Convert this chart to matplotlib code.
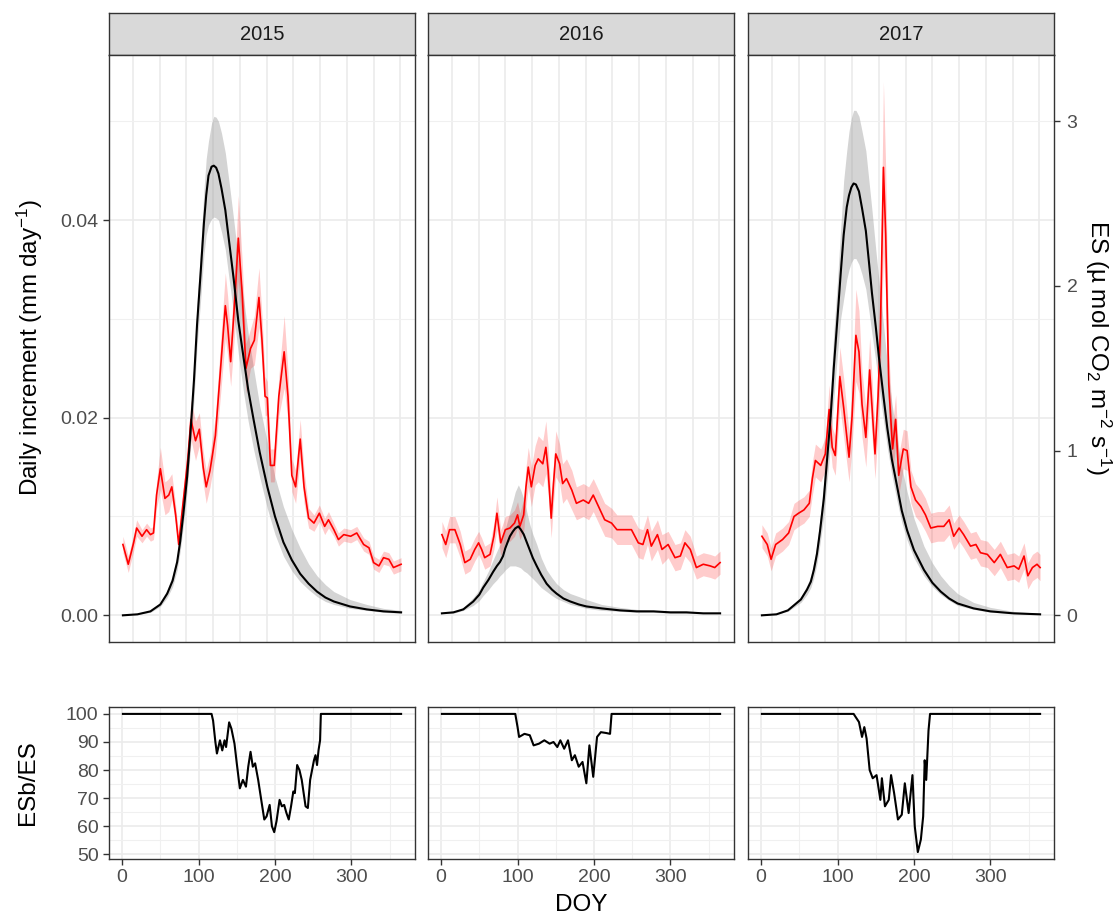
import numpy as np
import matplotlib
matplotlib.use('Agg')
import matplotlib.pyplot as plt

plt.rcParams['font.family'] = ['Liberation Sans', 'DejaVu Sans']
plt.rcParams['mathtext.fontset'] = 'custom'
plt.rcParams['mathtext.rm'] = 'Liberation Sans'
plt.rcParams['mathtext.it'] = 'Liberation Sans:italic'

years = ['2015', '2016', '2017']

# ---- daily increment (black line + grey ribbon), mm/day ----
inc_doy_2015 = [1, 20, 37, 50, 59, 66, 72, 76, 80, 85, 89, 94, 98, 103, 107, 110, 113, 117, 120, 123, 126, 130,
                135, 140, 146, 152, 159, 165, 172, 180, 190, 200, 211, 222, 233, 244, 255, 266, 277, 298, 320,
                342, 365]
inc_2015 = [0, 0.0001, 0.0004, 0.0011, 0.0022, 0.0035, 0.0054, 0.0075, 0.0102, 0.014, 0.018, 0.0238, 0.0294,
            0.035, 0.0397, 0.0425, 0.0445, 0.0454, 0.0455, 0.0453, 0.0447, 0.0432, 0.041, 0.0378, 0.034, 0.0298,
            0.026, 0.0228, 0.0198, 0.0165, 0.013, 0.01, 0.0074, 0.0056, 0.0042, 0.0032, 0.0024, 0.0018, 0.0014,
            0.0009, 0.0006, 0.0004, 0.0003]
inc_lo_2015 = [0, 0.0001, 0.0003, 0.0009, 0.0018, 0.0029, 0.0046, 0.0065, 0.009, 0.0125, 0.0165, 0.0218, 0.0272,
               0.0322, 0.0365, 0.0385, 0.0395, 0.0401, 0.0403, 0.0402, 0.04, 0.0388, 0.037, 0.034, 0.0305, 0.0265,
               0.0225, 0.0196, 0.0168, 0.014, 0.0108, 0.0082, 0.006, 0.0045, 0.0034, 0.0026, 0.0019, 0.0014,
               0.0011, 0.0007, 0.0005, 0.0003, 0.0002]
inc_hi_2015 = [0, 0.0001, 0.0005, 0.0013, 0.0026, 0.0041, 0.006, 0.0083, 0.011, 0.0152, 0.0195, 0.0255, 0.0315,
               0.0375, 0.043, 0.0462, 0.048, 0.0498, 0.0505, 0.0504, 0.05, 0.0488, 0.0468, 0.0438, 0.04, 0.036,
               0.032, 0.0285, 0.025, 0.0212, 0.0175, 0.014, 0.011, 0.0087, 0.0068, 0.0052, 0.004, 0.0031, 0.0024,
               0.0016, 0.0011, 0.0007, 0.0005]

inc_doy_2016 = [1, 16, 29, 42, 50, 55, 62, 68, 73, 77, 81, 84, 87, 90, 94, 97, 101, 104, 108, 112, 116, 120, 125,
                131, 138, 145, 151, 160, 169, 180, 190, 210, 234, 256, 278, 300, 321, 343, 365]
inc_2016 = [0.0002, 0.0003, 0.0006, 0.0014, 0.0021, 0.0028, 0.0036, 0.0044, 0.005, 0.0054, 0.006, 0.0068, 0.0074,
            0.008, 0.0085, 0.0088, 0.009, 0.0087, 0.0082, 0.0074, 0.0066, 0.0058, 0.005, 0.0041, 0.0032, 0.0026,
            0.0022, 0.0017, 0.0014, 0.0011, 0.0009, 0.0007, 0.0005, 0.0004, 0.0004, 0.0003, 0.0003, 0.0002, 0.0002]
inc_lo_2016 = [0.0002, 0.0002, 0.0005, 0.001, 0.0015, 0.002, 0.0026, 0.0032, 0.0036, 0.004, 0.0043, 0.0046, 0.0048,
               0.005, 0.005, 0.005, 0.0049, 0.0048, 0.0045, 0.0043, 0.004, 0.0037, 0.0033, 0.0028, 0.0024, 0.002,
               0.0017, 0.0014, 0.0011, 0.0009, 0.0007, 0.0005, 0.0004, 0.0003, 0.0003, 0.0002, 0.0002, 0.0002, 0.0002]
inc_hi_2016 = [0.0002, 0.0004, 0.0008, 0.0018, 0.0026, 0.0034, 0.0045, 0.0056, 0.0065, 0.0072, 0.008, 0.0088,
               0.0096, 0.0105, 0.0116, 0.0125, 0.0132, 0.0127, 0.0118, 0.0105, 0.0092, 0.0082, 0.0072, 0.0058,
               0.0046, 0.0038, 0.0032, 0.0026, 0.0022, 0.0019, 0.0016, 0.0011, 0.0008, 0.0006, 0.0005, 0.0004,
               0.0004, 0.0003, 0.0003]

inc_doy_2017 = [1, 20, 35, 52, 60, 65, 69, 73, 77, 82, 86, 91, 95, 100, 104, 108, 112, 115, 118, 121, 124, 128,
                132, 137, 141, 145, 150, 154, 160, 165, 171, 178, 184, 191, 200, 213, 224, 235, 246, 257, 278, 300,
                330, 365]
inc_2017 = [0, 0.0001, 0.0005, 0.0016, 0.0026, 0.0034, 0.0046, 0.0062, 0.0085, 0.0118, 0.0155, 0.0202, 0.025,
            0.0302, 0.0345, 0.0385, 0.0413, 0.0425, 0.0433, 0.0437, 0.0436, 0.0429, 0.0412, 0.0389, 0.0358, 0.0326,
            0.0292, 0.0262, 0.0222, 0.019, 0.0158, 0.013, 0.0106, 0.0086, 0.0066, 0.0046, 0.0033, 0.0024, 0.0017,
            0.0012, 0.0007, 0.0004, 0.0002, 0.0001]
inc_lo_2017 = [0, 0.0001, 0.0004, 0.0013, 0.0021, 0.0028, 0.0038, 0.0052, 0.0072, 0.01, 0.0132, 0.0175, 0.0218,
               0.0265, 0.03, 0.032, 0.034, 0.035, 0.0357, 0.0361, 0.0361, 0.0355, 0.0345, 0.033, 0.0308, 0.0285,
               0.0257, 0.0232, 0.0198, 0.017, 0.0142, 0.0115, 0.0094, 0.0076, 0.0058, 0.004, 0.0029, 0.0021,
               0.0015, 0.001, 0.0006, 0.0003, 0.0002, 0.0001]
inc_hi_2017 = [0, 0.0001, 0.0006, 0.0019, 0.003, 0.004, 0.0054, 0.0072, 0.0098, 0.0135, 0.0178, 0.023, 0.0285,
               0.034, 0.039, 0.044, 0.047, 0.049, 0.0503, 0.0511, 0.0511, 0.0505, 0.049, 0.047, 0.044, 0.041, 0.037,
               0.034, 0.0295, 0.0255, 0.0215, 0.018, 0.015, 0.0125, 0.0098, 0.007, 0.0053, 0.004, 0.003, 0.0022,
               0.0013, 0.0008, 0.0004, 0.0002]

# ---- ES (red line + pink ribbon), umol CO2 m-2 s-1 ----
es_doy_2015 = [1, 8, 15, 19, 26, 32, 37, 41, 45, 50, 56, 61, 65, 70, 74, 78, 86, 90, 96, 101, 106, 110, 115, 122,
               128, 135, 138, 142, 148, 152, 157, 162, 168, 173, 179, 183, 187, 190, 194, 199, 205, 212, 217, 222,
               227, 233, 238, 244, 251, 258, 265, 270, 277, 283, 290, 299, 307, 316, 323, 329, 336, 342, 349, 355, 365]
es_2015 = [0.43, 0.31, 0.44, 0.53, 0.48, 0.52, 0.49, 0.50, 0.73, 0.89, 0.71, 0.73, 0.78, 0.61, 0.43, 0.61, 0.95,
           1.19, 1.06, 1.13, 0.90, 0.78, 0.88, 1.09, 1.45, 1.88, 1.76, 1.54, 1.96, 2.29, 1.96, 1.50, 1.62, 1.67,
           1.93, 1.67, 1.33, 1.32, 0.91, 0.91, 1.33, 1.60, 1.33, 0.85, 0.78, 1.07, 0.78, 0.59, 0.56, 0.62, 0.54,
           0.58, 0.52, 0.46, 0.49, 0.48, 0.50, 0.43, 0.41, 0.32, 0.30, 0.35, 0.34, 0.29, 0.31]
es_se_2015 = [0.05, 0.05, 0.05, 0.05, 0.04, 0.04, 0.04, 0.04, 0.08, 0.13, 0.10, 0.10, 0.08, 0.06, 0.05, 0.06,
              0.10, 0.12, 0.12, 0.10, 0.10, 0.10, 0.10, 0.12, 0.15, 0.20, 0.18, 0.15, 0.20, 0.26, 0.20, 0.15,
              0.12, 0.15, 0.18, 0.15, 0.12, 0.10, 0.10, 0.10, 0.12, 0.22, 0.15, 0.10, 0.10, 0.12, 0.10, 0.06,
              0.05, 0.05, 0.05, 0.05, 0.04, 0.04, 0.04, 0.04, 0.04, 0.04, 0.04, 0.04, 0.04, 0.04, 0.04, 0.04, 0.04]

es_doy_2016 = [1, 6, 11, 18, 25, 31, 38, 44, 49, 53, 57, 64, 69, 73, 78, 84, 90, 96, 100, 103, 108, 111, 114, 118,
               123, 127, 133, 137, 140, 144, 147, 150, 155, 159, 164, 171, 177, 186, 193, 199, 206, 214, 223, 230,
               238, 249, 258, 264, 270, 275, 283, 289, 297, 306, 313, 319, 326, 334, 343, 352, 358, 365]
es_2016 = [0.49, 0.43, 0.52, 0.52, 0.43, 0.32, 0.34, 0.40, 0.44, 0.40, 0.35, 0.37, 0.48, 0.62, 0.44, 0.52, 0.53,
           0.56, 0.61, 0.54, 0.61, 0.78, 0.90, 0.78, 0.91, 0.95, 0.92, 1.02, 0.88, 0.59, 0.80, 0.98, 0.92, 0.80,
           0.83, 0.76, 0.68, 0.70, 0.68, 0.73, 0.66, 0.58, 0.56, 0.52, 0.52, 0.52, 0.44, 0.43, 0.52, 0.42, 0.49,
           0.40, 0.43, 0.35, 0.36, 0.44, 0.40, 0.29, 0.31, 0.30, 0.29, 0.32]
es_se_2016 = [0.08, 0.08, 0.08, 0.08, 0.08, 0.07, 0.07, 0.07, 0.07, 0.07, 0.07, 0.07, 0.08, 0.10, 0.08, 0.08,
              0.08, 0.08, 0.08, 0.08, 0.10, 0.12, 0.12, 0.12, 0.12, 0.14, 0.14, 0.16, 0.14, 0.12, 0.12, 0.14,
              0.12, 0.12, 0.12, 0.12, 0.10, 0.10, 0.10, 0.10, 0.10, 0.10, 0.09, 0.09, 0.09, 0.09, 0.09, 0.09,
              0.09, 0.09, 0.09, 0.09, 0.08, 0.08, 0.08, 0.08, 0.08, 0.07, 0.07, 0.07, 0.07, 0.07]

es_doy_2017 = [1, 8, 13, 19, 28, 36, 43, 49, 56, 63, 67, 71, 78, 84, 89, 93, 97, 103, 108, 115, 119, 124, 128, 132,
               137, 142, 149, 153, 156, 160, 163, 167, 172, 176, 180, 186, 191, 196, 202, 209, 215, 222, 231, 239,
               246, 252, 259, 265, 274, 281, 287, 296, 305, 313, 322, 331, 337, 344, 349, 355, 361, 365]
es_2017 = [0.48, 0.43, 0.34, 0.43, 0.46, 0.50, 0.60, 0.62, 0.64, 0.68, 0.83, 0.94, 0.91, 0.98, 1.25, 1.02, 0.97,
           1.45, 1.26, 0.96, 1.21, 1.70, 1.60, 1.28, 1.08, 1.49, 0.98, 1.33, 1.72, 2.72, 2.31, 1.40, 1.01, 1.19,
           0.85, 1.01, 1.00, 0.78, 0.70, 0.66, 0.61, 0.53, 0.54, 0.54, 0.58, 0.48, 0.53, 0.49, 0.42, 0.43, 0.38,
           0.37, 0.32, 0.37, 0.29, 0.30, 0.28, 0.36, 0.24, 0.29, 0.31, 0.29]
es_se_2017 = [0.07, 0.07, 0.07, 0.07, 0.07, 0.07, 0.08, 0.08, 0.08, 0.08, 0.10, 0.10, 0.10, 0.10, 0.15, 0.12,
              0.12, 0.18, 0.18, 0.15, 0.18, 0.28, 0.25, 0.20, 0.18, 0.20, 0.15, 0.20, 0.25, 0.52, 0.40, 0.20,
              0.15, 0.15, 0.12, 0.12, 0.12, 0.10, 0.10, 0.10, 0.10, 0.09, 0.09, 0.09, 0.09, 0.08, 0.08, 0.08,
              0.08, 0.08, 0.08, 0.08, 0.08, 0.08, 0.08, 0.08, 0.08, 0.08, 0.08, 0.08, 0.08, 0.08]

# ---- ESb/ES (%) ----
ratio_doy_2015 = [1, 117, 119, 122, 124, 128, 131, 134, 136, 140, 143, 147, 150, 154, 158, 162, 165, 168, 171, 174,
                  178, 182, 186, 189, 193, 196, 199, 202, 206, 209, 212, 215, 218, 221, 224, 226, 229, 232, 235,
                  240, 243, 246, 251, 253, 255, 257, 259, 260, 365]
ratio_2015 = [100, 100, 97.6, 90, 85.9, 90.6, 87, 90.6, 88.2, 97, 94.7, 89.4, 82.4, 73.5, 76.5, 74.1, 81.2, 86.5,
              81.2, 82.4, 76.5, 69.4, 62.4, 63.5, 67.6, 60, 57.9, 61.8, 69.4, 67.1, 67.6, 64.7, 62.4, 67.1, 72.4,
              71.8, 81.8, 80, 76.5, 67.1, 66.5, 76.5, 83.5, 85.3, 81.8, 87.1, 90.6, 100, 100]
ratio_doy_2016 = [1, 97, 100, 102, 109, 116, 121, 128, 135, 142, 147, 152, 156, 161, 166, 171, 175, 180, 185, 190,
                  194, 199, 204, 209, 216, 221, 223, 365]
ratio_2016 = [100, 100, 95.3, 91.8, 92.9, 92.4, 88.8, 89.4, 90.6, 89.4, 90, 88.2, 90.6, 87.6, 90.6, 83.5, 85.3,
              81.2, 82.9, 75.3, 88.8, 77.6, 91.8, 93.5, 93.2, 92.9, 100, 100]
ratio_doy_2017 = [1, 121, 128, 132, 135, 138, 142, 146, 151, 156, 158, 162, 167, 170, 174, 179, 184, 188, 193, 198,
                  201, 205, 209, 212, 214, 216, 219, 221, 365]
ratio_2017 = [100, 100, 97.1, 91.8, 95.3, 91.2, 80, 77.1, 78.2, 69.4, 77.1, 67.1, 69.4, 78.2, 71.8, 62.4, 64.1,
              75.3, 64.7, 78.2, 60, 50.8, 55.3, 63.5, 83.5, 76.5, 94.1, 100, 100]

es_scale = 60  # ES = increment * 60 (secondary axis)
top_grid = [14, 49, 84, 119, 154, 189, 224, 259, 294, 329, 364]

inc = {'2015': (inc_doy_2015, inc_2015, inc_lo_2015, inc_hi_2015),
       '2016': (inc_doy_2016, inc_2016, inc_lo_2016, inc_hi_2016),
       '2017': (inc_doy_2017, inc_2017, inc_lo_2017, inc_hi_2017)}
es = {'2015': (es_doy_2015, es_2015, es_se_2015),
      '2016': (es_doy_2016, es_2016, es_se_2016),
      '2017': (es_doy_2017, es_2017, es_se_2017)}
ratio = {'2015': (ratio_doy_2015, ratio_2015),
         '2016': (ratio_doy_2016, ratio_2016),
         '2017': (ratio_doy_2017, ratio_2017)}

W, H = 1118, 922
fig = plt.figure(figsize=(W / 100, H / 100), dpi=100)

def px_box(x0, y0, x1, y1):
    return [x0 / W, 1 - y1 / H, (x1 - x0) / W, (y1 - y0) / H]

cols = [(109, 415), (428, 734), (748, 1054)]
border = '#333333'
tick_col = '#4D4D4D'
fs_tick = 14
fs_title = 17.5
xlim = (-17.2, 383.2)

def style(ax):
    ax.set_facecolor('white')
    for s in ax.spines.values():
        s.set_color(border)
        s.set_linewidth(1.0)
    ax.set_axisbelow(True)
    ax.tick_params(which='both', direction='out', color=border, width=1.0, length=4,
                   labelsize=fs_tick, labelcolor=tick_col)

for i, yr in enumerate(years):
    x0, x1 = cols[i]

    # strip
    axs = fig.add_axes(px_box(x0, 13, x1, 55))
    axs.set_facecolor('#D9D9D9')
    for s in axs.spines.values():
        s.set_color(border)
        s.set_linewidth(1.0)
    axs.set_xticks([])
    axs.set_yticks([])
    axs.text(0.5, 0.5, yr, ha='center', va='center', fontsize=14.5, color='#1A1A1A',
             transform=axs.transAxes)

    # top panel
    ax = fig.add_axes(px_box(x0, 55, x1, 642))
    style(ax)
    d, m, lo, hi = inc[yr]
    ed, ev, ese = es[yr]
    ev = np.array(ev)
    ese = np.array(ese)
    ax.fill_between(d, lo, hi, color='#A0A0A0', alpha=0.45, lw=0)
    ax.fill_between(ed, (ev - ese) / es_scale, (ev + ese) / es_scale, color='red', alpha=0.2, lw=0)
    ax.plot(ed, ev / es_scale, color='red', lw=1.2)
    ax.plot(d, m, color='black', lw=1.5)
    ax.set_xlim(xlim)
    ax.set_ylim(-0.0027, 0.0567)
    ax.set_xticks(top_grid)
    ax.set_yticks([0, 0.02, 0.04])
    ax.set_yticks([0.01, 0.03, 0.05], minor=True)
    ax.grid(True, which='major', color='#EBEBEB', lw=1.2)
    ax.grid(True, which='minor', axis='y', color='#F0F0F0', lw=0.8)
    ax.tick_params(axis='x', length=0, labelbottom=False)
    ax.tick_params(axis='y', which='minor', length=0)
    if i == 0:
        ax.set_yticklabels(['0.00', '0.02', '0.04'])
    else:
        ax.tick_params(axis='y', length=0, labelleft=False)
    if i == 2:
        tw = ax.twinx()
        tw.set_ylim(-0.0027 * es_scale, 0.0567 * es_scale)
        tw.set_yticks([0, 1, 2, 3])
        for s in tw.spines.values():
            s.set_visible(False)
        tw.tick_params(axis='y', direction='out', color=border, width=1.0, length=4,
                       labelsize=fs_tick, labelcolor=tick_col, pad=5)

    # bottom panel
    axb = fig.add_axes(px_box(x0, 707, x1, 859))
    style(axb)
    rd, rv = ratio[yr]
    axb.plot(rd, rv, color='black', lw=1.5)
    axb.set_xlim(xlim)
    axb.set_ylim(48.34, 102.46)
    axb.set_xticks([0, 100, 200, 300])
    axb.set_xticks([50, 150, 250, 350], minor=True)
    axb.set_yticks([50, 60, 70, 80, 90, 100])
    axb.set_yticks([55, 65, 75, 85, 95], minor=True)
    axb.grid(True, which='major', color='#EBEBEB', lw=1.2)
    axb.grid(True, which='minor', color='#F0F0F0', lw=0.8)
    axb.tick_params(which='minor', length=0)
    if i != 0:
        axb.tick_params(axis='y', length=0, labelleft=False)

fig.text(30 / W, 1 - 348 / H, 'Daily increment (mm day$^{-1}$)', rotation=90, ha='center', va='center',
         fontsize=fs_title)
fig.text(1098 / W, 1 - 348 / H, 'ES (µ mol CO$_2$ m$^{-2}$ s$^{-1}$)', rotation=270, ha='center',
         va='center', fontsize=fs_title)
fig.text(28 / W, 1 - 783 / H, 'ESb/ES', rotation=90, ha='center', va='center', fontsize=fs_title)
fig.text(581.5 / W, 1 - 905 / H, 'DOY', ha='center', va='center', fontsize=fs_title)

fig.savefig('out.png', dpi=100)
